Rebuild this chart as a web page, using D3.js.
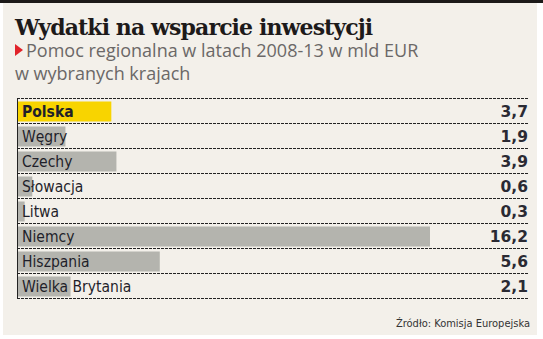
<!DOCTYPE html>
<html><head><meta charset="utf-8">
<script src="https://cdn.jsdelivr.net/npm/d3@7"></script>
<style>html,body{margin:0;padding:0;background:#fff;}svg{display:block;}</style>
</head><body>
<svg id="c" width="543" height="339"></svg>
<script>
const countries = ["Polska","Węgry","Czechy","Słowacja","Litwa","Niemcy","Hiszpania","Wielka Brytania"];
const values = [3.7,1.9,3.9,0.6,0.3,16.2,5.6,2.1];
const valueLabels = ["3,7","1,9","3,9","0,6","0,3","16,2","5,6","2,1"];
const highlight = "Polska";

const svg = d3.select("#c");
svg.append("rect").attr("x",3).attr("y",0).attr("width",534).attr("height",335).attr("fill","#f3f0ea");
svg.append("rect").attr("x",0).attr("y",0).attr("width",543).attr("height",3).attr("fill","#1c1a19");

svg.append("text").attr("x",15).attr("y",35)
  .attr("font-family","DejaVu Serif").attr("font-weight","bold").attr("font-size",22)
  .attr("letter-spacing",-0.9).attr("fill","#1d1a1a").text("Wydatki na wsparcie inwestycji");

svg.append("path").attr("d","M15,44 L23,50 L15,56 Z").attr("fill","#e1232a");
svg.append("text").attr("x",26).attr("y",57).attr("font-family","Open Sans").attr("font-size",18)
  .attr("fill","#6b6867").text("Pomoc regionalna w latach 2008-13 w mld EUR");
svg.append("text").attr("x",15).attr("y",80).attr("font-family","Open Sans").attr("font-size",18)
  .attr("fill","#6b6867").text("w wybranych krajach");

const x = d3.scaleLinear().domain([0, 16.2]).range([17, 430]);
const y = d3.scaleBand().domain(countries).range([98.5, 298.5]);

const g = svg.append("g");
const rows = g.selectAll("g.row").data(countries).join("g").attr("class","row");
rows.append("rect")
  .attr("x", x(0)).attr("y", d => y(d) + 3)
  .attr("width", (d,i) => x(values[i]) - x(0))
  .attr("height", y.bandwidth() - 5)
  .attr("fill", d => d === highlight ? "#f8d400" : "#b4b4ae");
rows.append("text").attr("x",22).attr("y", d => y(d) + 18)
  .attr("font-family","DejaVu Sans Condensed").attr("font-size",15.5)
  .attr("font-weight", d => d === highlight ? "bold" : "normal")
  .attr("fill","#1f1f2a").text(d => d);
rows.append("text").attr("x",528).attr("y", d => y(d) + 18).attr("text-anchor","end")
  .attr("font-family","DejaVu Sans").attr("font-weight","bold").attr("font-size",15.5)
  .attr("fill","#2a2a33").text((d,i) => valueLabels[i]);

const lines = [...countries.map(d => y(d)), y(countries[countries.length-1]) + y.bandwidth()];
g.selectAll("line.h").data(lines).join("line").attr("class","h")
  .attr("x1",17).attr("x2",529).attr("y1",d=>d).attr("y2",d=>d)
  .attr("stroke","#222").attr("stroke-width",1).attr("stroke-dasharray","3,1");
g.append("line").attr("x1",17.5).attr("x2",17.5).attr("y1",98.5).attr("y2",298.5)
  .attr("stroke","#222").attr("stroke-width",1);

svg.append("text").attr("x",530).attr("y",327).attr("text-anchor","end")
  .attr("font-family","DejaVu Sans Condensed").attr("font-size",11).attr("fill","#333")
  .text("Źródło: Komisja Europejska");
</script>
</body></html>
